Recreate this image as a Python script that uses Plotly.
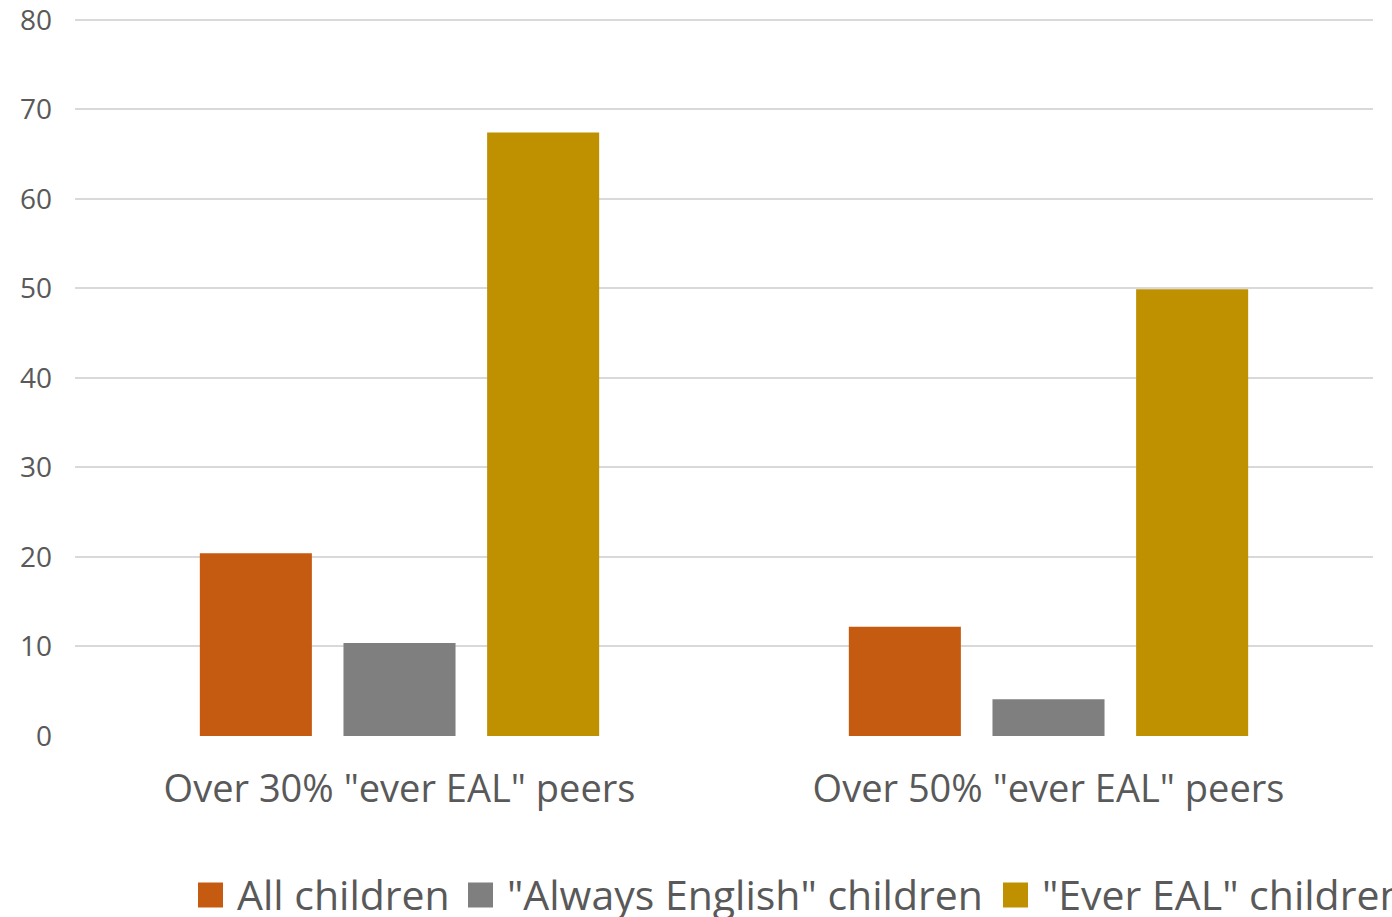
import plotly.graph_objects as go

categories = ['Over 30% "ever EAL" peers', 'Over 50% "ever EAL" peers']
series_names = ['All children', '"Always English" children', '"Ever EAL" children']
all_children = [20.4, 12.2]
always_english = [10.4, 4.1]
ever_eal = [67.4, 49.9]
colors = ['#C55A11', '#7F7F7F', '#BF9000']
y_ticks = [0, 10, 20, 30, 40, 50, 60, 70, 80]

FONT = "Segoe UI, Open Sans, sans-serif"
TEXT = "#595959"

fig = go.Figure()
for name, vals, col in zip(series_names, [all_children, always_english, ever_eal], colors):
    fig.add_trace(go.Bar(x=categories, y=vals, name=name, marker=dict(color=col, line=dict(width=0)),
                         showlegend=False))

# manual legend (large square markers like the original)
legend_x = [198, 468, 1003]   # pixel starts of markers
fig_w, fig_h = 1392, 917
ml, mr, mt, mb = 75, 19, 18, 181
pw = fig_w - ml - mr
ph = fig_h - mt - mb
def px2paper_x(px):
    return (px - ml) / pw
def px2paper_y(py):
    return (fig_h - mb - py) / ph

leg_y = 894
sq = 25
for name, col, lx in zip(series_names, colors, legend_x):
    fig.add_shape(type="rect", xref="paper", yref="paper",
                  x0=px2paper_x(lx), x1=px2paper_x(lx + sq),
                  y0=px2paper_y(leg_y + 1 + sq / 2), y1=px2paper_y(leg_y + 1 - sq / 2),
                  fillcolor=col, line=dict(width=0))
    fig.add_annotation(xref="paper", yref="paper", x=px2paper_x(lx + sq + 12), y=px2paper_y(leg_y),
                       text=name, showarrow=False, xanchor="left", yanchor="middle",
                       font=dict(family=FONT, size=41, color=TEXT))

fig.update_layout(
    width=fig_w, height=fig_h,
    margin=dict(l=ml, r=mr, t=mt, b=mb, pad=0, autoexpand=False),
    paper_bgcolor="white", plot_bgcolor="white",
    barmode="group", bargap=0.336, bargroupgap=0.22,
    showlegend=False,
    font=dict(family=FONT, color=TEXT),
)
fig.update_yaxes(range=[0, 80.2], tickvals=y_ticks, showgrid=True, gridcolor="#D9D9D9", gridwidth=1.5,
                 zeroline=False, showline=False, ticks="", ticklabelstandoff=22, automargin=False,
                 ticklabeloverflow="allow",
                 tickfont=dict(family=FONT, size=28, color=TEXT))
fig.update_xaxes(showgrid=False, zeroline=False, showline=False, ticks="", ticklabelstandoff=27,
                 automargin=False, ticklabeloverflow="allow",
                 tickfont=dict(family=FONT, size=38, color=TEXT))

fig.write_html("out.html")
